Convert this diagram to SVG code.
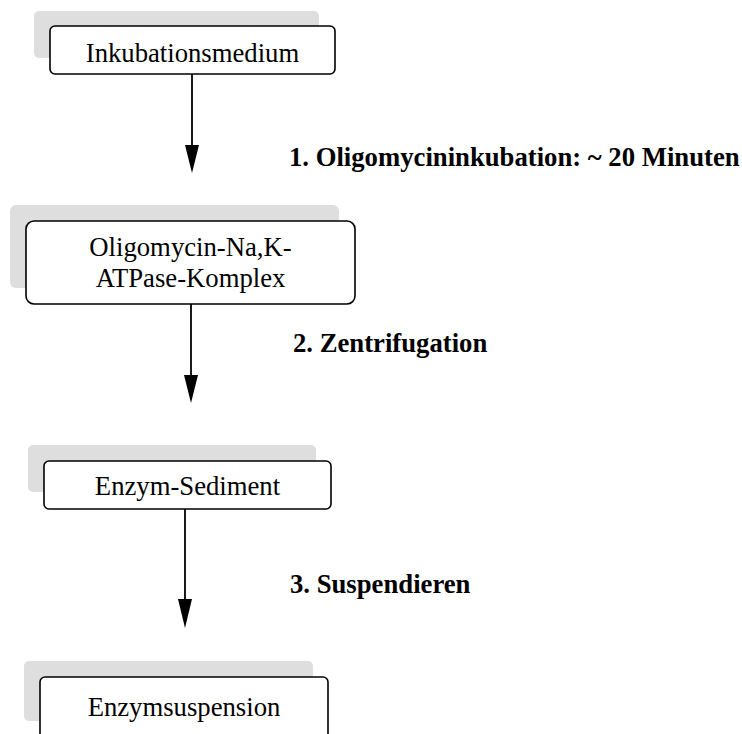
<svg xmlns="http://www.w3.org/2000/svg" width="742" height="734" viewBox="0 0 742 734">
<defs>
<style>
.sh{fill:#dedede;stroke:none}
.bx{fill:#ffffff;stroke:#000000;stroke-width:1.6}
.t{font-family:"Liberation Serif","Times New Roman",serif;font-size:26.7px;fill:#000;text-anchor:middle}
.lb{font-family:"Liberation Serif","Times New Roman",serif;font-size:26.7px;font-weight:bold;fill:#000}
.ln{stroke:#000;stroke-width:1.8;fill:none}
</style>
<marker id="ah" markerUnits="userSpaceOnUse" markerWidth="16" markerHeight="30" refX="7" refY="29" orient="auto-start-reverse" viewBox="0 0 14 30">
<path d="M0,0 L14,0 L7,29 Z" fill="#000"/>
</marker>
</defs>
<rect width="742" height="734" fill="#ffffff"/>
<g id="node1">
<rect class="sh" x="34" y="11" width="285" height="47" rx="5"/>
<rect class="bx" x="50" y="26" width="285" height="48" rx="5"/>
<text class="t" x="192.5" y="62">Inkubationsmedium</text>
</g>
<g id="node2">
<rect class="sh" x="10" y="205" width="329" height="83" rx="6"/>
<rect class="bx" x="26" y="221" width="329" height="83" rx="8"/>
<text class="t" x="190.5" y="256">Oligomycin-Na,K-</text>
<text class="t" x="190.5" y="287">ATPase-Komplex</text>
</g>
<g id="node3">
<rect class="sh" x="28" y="445" width="288" height="47" rx="5"/>
<rect class="bx" x="44" y="461" width="287" height="48" rx="5"/>
<text class="t" x="187.5" y="495">Enzym-Sediment</text>
</g>
<g id="node4">
<rect class="sh" x="24" y="661" width="289" height="60" rx="5"/>
<rect class="bx" x="40" y="677" width="288" height="70" rx="5"/>
<text class="t" x="184" y="716">Enzymsuspension</text>
</g>
<g id="connectors">
<line class="ln" x1="192" y1="74" x2="192" y2="146"/>
<path d="M185,145 L199,145 L192,173 Z" fill="#000"/>
<line class="ln" x1="191" y1="304" x2="191" y2="376"/>
<path d="M184,375 L198,375 L191,403 Z" fill="#000"/>
<line class="ln" x1="185" y1="509" x2="185" y2="600"/>
<path d="M178,599 L192,599 L185,628 Z" fill="#000"/>
</g>
<g id="labels">
<text class="lb" x="289" y="166">1. Oligomycininkubation: ~ 20 Minuten</text>
<text class="lb" x="293" y="352">2. Zentrifugation</text>
<text class="lb" x="290" y="593">3. Suspendieren</text>
</g>
</svg>
